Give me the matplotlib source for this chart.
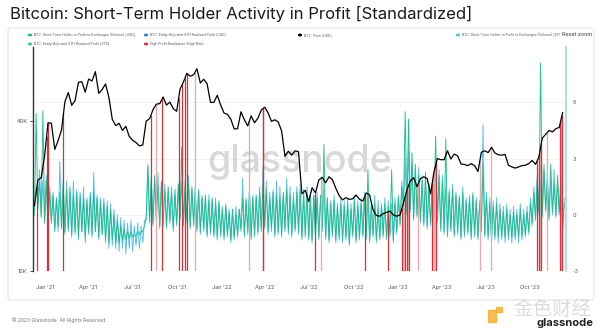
"""Bitcoin: Short-Term Holder Activity in Profit [Standardized] - glassnode style chart."""
import numpy as np
import matplotlib
matplotlib.use("Agg")
import matplotlib.pyplot as plt
import matplotlib.dates as mdates
from matplotlib.patches import FancyBboxPatch, Rectangle

# ---- data (weekly, first week starting 2020-12-10) ----
start = np.datetime64("2020-12-10")

price_k = [
    18.3, 23.2, 23.7, 29.0,
    39.4, 39.2, 30.8, 33.4, 36.9, 47.9, 52.1, 46.3, 48.4, 57.3, 57.6, 52.3,
    59.0, 58.0, 63.2, 51.7, 53.6, 56.4, 49.7, 40.6, 38.4, 39.2, 36.7, 38.1, 34.7,
    33.5, 32.8, 31.8, 32.1, 40.0, 40.9, 44.4, 46.8, 47.0, 50.0, 46.4, 47.7, 44.9, 43.8,
    53.8, 57.4, 62.2, 60.6, 61.4, 64.9, 56.9, 58.9, 56.5, 47.6, 47.6, 50.8, 46.4,
    43.1, 42.6, 40.7, 37.2, 37.3, 43.6, 40.5, 38.3, 42.0, 39.4, 41.1, 44.3, 45.5,
    43.2, 39.9, 40.5, 39.7, 36.5, 28.9, 30.3, 29.2, 30.4, 30.1, 20.4, 21.1, 19.0,
    21.6, 20.6, 23.2, 23.8, 22.6, 23.9, 23.3, 21.5, 20.1, 19.3, 19.7, 19.4, 19.5,
    20.2, 19.4, 19.1, 20.6, 20.2, 17.6, 16.7, 16.6, 17.0, 17.2, 17.4, 16.8, 16.6,
    16.8, 18.8, 21.1, 23.0, 23.7, 21.8, 23.5, 23.9, 23.5, 20.4, 25.0, 28.3, 28.0,
    28.0, 30.4, 28.2, 29.5, 29.0, 26.9, 26.8, 26.5, 27.0, 26.5, 25.1, 30.0, 30.4,
    29.9, 31.4, 29.8, 29.3, 29.2, 29.4, 26.6, 26.2, 25.9, 26.2, 26.5, 26.6, 27.0,
    27.8, 26.8, 28.7, 34.2, 35.4, 36.7, 36.2, 37.3, 37.7, 43.3,
]

# STH in Profit to Exchanges (Volume) [STD] - weekly high / low
cyan_hi = [
    1.5, 2.4, 1.8, 2.1, 1.5, 1.2, 0.9, 2.85, 1.5, 1.8, 1.2, 1.8, 1.35,
    1.2, 1.5, 0.9, 1.2, 2.25, 1.05, 0.9, 0.9, 0.75, 0.6, 0.3, 0.0, -0.15,
    -0.3, -0.45, -0.3, -0.6, -0.45, -0.6, -0.3, 2.7, 2.1, 1.8, 2.25, 1.5, 1.65,
    1.2, 1.5, 1.05, 1.35, 1.8, 1.5, 2.1, 1.35, 1.5, 1.2, 1.05, 0.9, 1.05,
    0.75, 0.9, 0.6, 0.45, 0.6, 0.3, 0.15, 0.45, 0.3, 1.95, 0.9, 1.2, 1.05,
    0.9, 1.5, 2.55, 1.8, 1.2, 1.35, 1.8, 1.5, 1.05, 1.95, 1.5, 1.2, 1.5,
    1.65, 1.35, 1.5, 1.2, 1.05, 1.2, 0.9, 1.35, 0.9, 0.75, 1.05, 0.6, 0.9,
    0.75, 0.9, 0.6, 1.05, 0.75, 0.9, 1.2, 0.9, 0.6, 1.05, 0.75, 0.6, 0.9,
    0.75, 0.6, 0.9, 1.05, 1.8, 3.0, 3.45, 2.7, 2.4, 2.55, 2.1, 1.8, 1.65,
    1.5, 2.7, 2.4, 2.1, 1.5, 1.35, 1.65, 1.2, 1.05, 1.5, 0.9, 1.05, 1.2,
    0.9, 0.75, 4.8, 1.2, 0.9, 0.75, 0.9, 0.6, 0.45, 0.6, 0.3, 0.45, 0.3,
    0.6, 0.3, 0.45, 0.9, 1.5, 2.1, 1.8, 2.7, 2.25, 1.95, 2.4, 1.8, 2.1,
    0.9,
]
cyan_lo = [
    0.3, 0.6, 0.0, -0.3, -0.6, -0.3, -0.75, -0.9, -0.6, -1.05, -0.9, -1.2, -1.05,
    -1.35, -0.9, -1.5, -1.05, -1.2, -0.9, -1.35, -1.05, -1.5, -1.8, -1.65, -1.8, -1.95,
    -1.8, -2.1, -1.8, -1.95, -1.65, -1.8, -1.5, -0.3, -0.45, -0.6, -0.3, -0.75, -0.6,
    -0.75, -0.45, -0.9, -0.6, -0.3, -0.6, -0.45, -0.75, -0.6, -0.9, -1.05, -0.9, -1.2,
    -1.05, -1.2, -1.35, -1.2, -1.35, -1.2, -1.5, -1.35, -1.2, -0.9, -1.2, -1.05, -1.35,
    -1.2, -1.05, -0.9, -0.75, -1.05, -0.9, -1.2, -1.05, -1.2, -0.9, -1.05, -1.2, -0.9,
    -1.05, -1.35, -1.2, -1.35, -1.5, -1.2, -1.35, -0.9, -1.35, -1.5, -1.2, -1.5, -1.35,
    -1.5, -1.35, -1.65, -1.2, -1.5, -1.35, -1.2, -1.35, -1.5, -1.2, -1.5, -1.35, -1.2,
    -1.35, -1.2, -1.5, -1.05, -0.6, 0.3, 0.0, 0.15, -0.3, -0.15, -0.45, -0.6, -0.75,
    -0.6, -0.3, -0.45, -0.9, -1.05, -1.2, -0.9, -1.2, -1.05, -1.35, -1.2, -1.05, -1.35,
    -1.2, -1.35, -0.9, -1.2, -1.35, -1.5, -1.35, -1.5, -1.35, -1.5, -1.35, -1.5, -1.35,
    -1.5, -1.35, -1.2, -1.05, -0.6, -0.3, 0.0, -0.15, 0.15, -0.3, 0.0, -0.15, 0.0,
    -0.9,
]

# Entity-Adjusted STH Realized Profit [STD] - weekly high / low
green_hi = [
    5.4, 1.8, 5.55, 1.8, 1.2, 1.05, 0.9, 1.2, 1.8, 1.35, 1.5, 1.05, 1.2,
    1.05, 0.9, 0.75, 1.05, 1.2, 0.9, 0.75, 0.6, 0.45, 0.3, 0.0, -0.3, -0.6,
    -0.75, -0.9, -0.9, -1.05, -0.9, -0.9, -0.6, 2.55, 1.8, 2.1, 1.5, 1.8, 1.35,
    1.5, 1.2, 1.35, 1.65, 3.6, 1.8, 1.65, 1.5, 1.2, 1.35, 0.9, 1.05, 0.75,
    0.9, 0.6, 0.75, 0.3, 0.45, 0.15, 0.3, 0.0, 0.3, 0.9, 0.75, 1.35, 0.9,
    1.05, 1.2, 1.5, 1.35, 0.9, 1.2, 1.05, 0.9, 1.2, 1.35, 1.05, 0.9, 1.2,
    1.35, 1.05, 1.2, 0.9, 1.05, 0.9, 1.05, 3.75, 0.9, 0.6, 0.75, 0.45, 0.6,
    0.45, 0.6, 0.3, 0.75, 0.45, 0.6, 0.9, 2.4, 0.45, 0.6, 0.3, 0.45, 0.6,
    0.45, 2.4, 0.6, 0.9, 1.5, 5.5, 5.1, 3.3, 2.7, 2.1, 1.8, 2.25, 1.5,
    1.65, 4.2, 2.1, 1.8, 4.05, 1.2, 1.35, 1.05, 0.9, 1.2, 0.75, 0.9, 1.05,
    0.75, 0.6, 2.7, 0.9, 0.6, 0.45, 0.6, 0.3, 0.15, 0.3, 0.0, 0.15, 0.0,
    0.3, 0.0, 0.15, 0.6, 1.2, 1.8, 8.1, 2.4, 1.8, 2.7, 1.65, 2.1, 1.5,
    0.6,
]
green_lo = [
    0.0, 0.3, -0.15, -0.45, -0.6, -0.45, -0.9, -0.6, -0.75, -0.9, -0.75, -1.05, -0.9,
    -1.2, -0.9, -1.2, -0.9, -1.05, -0.9, -1.2, -1.05, -1.35, -1.5, -1.35, -1.5, -1.5,
    -1.35, -1.35, -1.25, -1.2, -1.15, -1.05, -0.9, -0.15, -0.3, -0.45, -0.15, -0.6, -0.45,
    -0.6, -0.3, -0.75, -0.45, -0.15, -0.45, -0.3, -0.6, -0.45, -0.75, -0.9, -0.75, -1.05,
    -0.9, -1.05, -1.2, -1.05, -1.2, -1.05, -1.35, -1.2, -1.05, -0.75, -1.05, -0.9, -1.2,
    -1.05, -0.9, -0.75, -0.6, -0.9, -0.75, -1.05, -0.9, -1.05, -0.75, -0.9, -1.05, -0.75,
    -0.9, -1.2, -1.05, -1.2, -1.35, -1.05, -1.2, -0.75, -1.2, -1.35, -1.05, -1.35, -1.2,
    -1.35, -1.2, -1.5, -1.05, -1.35, -1.2, -1.05, -1.2, -1.35, -1.05, -1.35, -1.2, -1.05,
    -1.2, -1.05, -1.35, -0.9, -0.45, 0.45, 0.15, 0.3, -0.15, 0.0, -0.3, -0.45, -0.6,
    -0.45, -0.15, -0.3, -0.75, -0.9, -1.05, -0.75, -1.05, -0.9, -1.2, -1.05, -0.9, -1.2,
    -1.05, -1.2, -0.75, -1.05, -1.15, -1.2, -1.15, -1.2, -1.15, -1.2, -1.15, -1.2, -1.15,
    -1.2, -1.15, -1.05, -0.9, -0.45, -0.15, 0.15, 0.0, 0.3, -0.15, 0.15, 0.0, 0.15,
    -0.6,
]

# High Profit Realization (High Risk) periods
risk_periods = [
    ("2020-12-15", "2020-12-15"), ("2021-01-04", "2021-01-04"), ("2021-01-08", "2021-01-08"),
    ("2021-02-08", "2021-02-08"), ("2021-08-08", "2021-08-08"), ("2021-08-19", "2021-08-19"),
    ("2021-08-31", "2021-08-31"), ("2021-10-04", "2021-10-04"), ("2021-10-12", "2021-10-12"),
    ("2021-10-17", "2021-10-17"), ("2021-10-21", "2021-10-21"), ("2021-11-06", "2021-11-06"),
    ("2022-02-27", "2022-02-27"), ("2022-03-27", "2022-03-28"), ("2022-07-14", "2022-07-14"),
    ("2022-07-26", "2022-07-26"), ("2022-10-25", "2022-10-25"), ("2022-12-12", "2022-12-12"),
    ("2023-01-09", "2023-01-15"), ("2023-01-19", "2023-01-24"), ("2023-02-12", "2023-02-12"),
    ("2023-03-12", "2023-03-21"), ("2023-06-19", "2023-06-19"), ("2023-07-11", "2023-07-11"),
    ("2023-10-15", "2023-10-15"), ("2023-10-20", "2023-10-24"), ("2023-11-05", "2023-11-05"),
    ("2023-12-02", "2023-12-06"),
]
light_periods = {"2021-11-06", "2022-02-27", "2022-07-26", "2023-02-12", "2023-06-19",
                 "2023-07-11", "2023-11-05", "2021-08-19"}

x_ticks = ["2021-01-01", "2021-04-01", "2021-07-01", "2021-10-01", "2022-01-01", "2022-04-01",
           "2022-07-01", "2022-10-01", "2023-01-01", "2023-04-01", "2023-07-01", "2023-10-01"]
x_labels = ["Jan '21", "Apr '21", "Jul '21", "Oct '21", "Jan '22", "Apr '22",
            "Jul '22", "Oct '22", "Jan '23", "Apr '23", "Jul '23", "Oct '23"]

# ---- prep ----
def dnum(s):
    return mdates.date2num(np.datetime64(s).astype("datetime64[D]").astype(object))

n = len(price_k)
dnum0 = dnum(start)
price_x = dnum0 + np.arange(n) * 7
price = np.array(price_k) * 1000

def zigzag(lo, hi):
    xs, ys = [], []
    for i in range(len(lo)):
        xs += [dnum0 + 7 * i, dnum0 + 7 * i + 3.5]
        ys += [lo[i], hi[i]]
    return np.array(xs), np.array(ys)

cx, cy = zigzag(cyan_lo, cyan_hi)
gx, gy = zigzag(green_lo, green_hi)

C_GREEN = "#1dbf8c"
C_CYAN = "#56bfe8"
C_RED = "#d8313a"
C_PINK = "#f1a3a6"

plt.rcParams["font.family"] = ["Inter", "DejaVu Sans"]
fig = plt.figure(figsize=(6, 3.3), dpi=100)

# panel
panel = FancyBboxPatch((8 / 600, 1 - 300 / 330), 586 / 600, 272 / 330,
                       boxstyle="round,pad=0,rounding_size=0.006",
                       transform=fig.transFigure, fc="white", ec="#e4e4e4", lw=0.8, zorder=-5)
fig.patches.append(panel)

ax2 = fig.add_axes([33 / 600, 1 - 271 / 330, 533 / 600, 224 / 330])
ax = ax2.twinx()
ax2.patch.set_visible(False)
ax.patch.set_visible(False)

ax.set_yscale("log")
ax.set_ylim(10000, 79400)
ax2.set_ylim(-3, 8.95)
xlim = (dnum("2020-12-07"), dnum("2023-12-14"))
ax.set_xlim(*xlim)
ax2.set_xlim(*xlim)

# grid on right axis
for v in [-3, 0, 3, 6]:
    ax2.axhline(v, color="#efefef", lw=0.6, zorder=0)

# watermark
ax2.text(0.5, 0.485, "glassnode", transform=ax2.transAxes, ha="center", va="center",
         fontsize=27, color="#d2d2d2", alpha=0.85, zorder=0.5, fontweight="medium")

ax2.plot(cx, cy, color=C_CYAN, lw=0.65, zorder=2)
ax2.plot(gx, gy, color=C_GREEN, lw=0.65, zorder=3)

# risk bars up to price
for s, e in risk_periods:
    xs, xe = dnum(s), dnum(e)
    col = C_PINK if s in light_periods else C_RED
    if xe - xs < 0.5:
        ax.vlines(xs, 10000, np.interp(xs, price_x, price), color=col, lw=0.9, zorder=3)
    else:
        xx = np.linspace(xs, xe, 8)
        ax.fill_between(xx, 10000, np.interp(xx, price_x, price), color=C_PINK, alpha=0.8,
                        lw=0, zorder=3)
        for xv in (xs, xe):
            ax.vlines(xv, 10000, np.interp(xv, price_x, price), color=C_RED, lw=0.9, zorder=3)

ax.plot(price_x, price, color="black", lw=0.9, zorder=4)

# axes styling
for a in (ax, ax2):
    a.spines["top"].set_visible(False)
    a.spines["bottom"].set_visible(False)
ax.spines["left"].set_visible(False)
ax.spines["right"].set_visible(False)
ax2.spines["left"].set_color("#333333")
ax2.spines["left"].set_linewidth(1.0)
ax2.spines["right"].set_color("#a7d4ec")
ax2.spines["right"].set_linewidth(1.2)

# price ticks on the left, STD ticks on the right
ax.yaxis.tick_left()
ax.yaxis.set_major_locator(matplotlib.ticker.FixedLocator([10000, 40000]))
ax.yaxis.set_minor_locator(matplotlib.ticker.NullLocator())
ax.set_yticklabels(["10K", "40K"])
ax.tick_params(axis="y", length=2, width=0.6, color="#333333", labelsize=4, labelcolor="#555555", pad=2)
ax2.yaxis.tick_right()
ax2.set_yticks([-3, 0, 3, 6])
ax2.set_yticklabels(["-3", "0", "3", "6"])
ax2.tick_params(axis="y", length=0, labelsize=4, labelcolor="#555555", pad=5)

ax2.set_xticks([dnum(d) for d in x_ticks])
ax2.set_xticklabels(x_labels)
ax2.tick_params(axis="x", length=0, labelsize=4, labelcolor="#555555", pad=10)
ax.tick_params(axis="x", length=0, labelbottom=False)

# title
fig.text(10 / 600, 1 - 14 / 330, "Bitcoin: Short-Term Holder Activity in Profit [Standardized]",
         fontsize=12, color="#1a1a1a", va="center", ha="left")

# legend
legend_items = [
    (30, 35, C_GREEN, "BTC: Short-Term Holder in Profit to Exchanges (Volume) [USD]"),
    (146, 35, "#2f7fd6", "BTC: Entity-Adjusted STH Realized Profit [USD]"),
    (300, 35, "black", "BTC: Price [USD]"),
    (458, 35, "#5cc6dc", "BTC: Short-Term Holder in Profit to Exchanges (Volume) [STI"),
    (30, 44, "#2ec99a", "BTC: Entity-Adjusted STH Realized Profit [STD]"),
    (146, 44, C_RED, "High Profit Realization (High Risk)"),
]
for lx, ly, col, txt in legend_items:
    fig.patches.append(plt.Circle((lx / 600, 1 - ly / 330), 1.4 / 600, transform=fig.transFigure,
                                  color=col))
    fig.text((lx + 3.5) / 600, 1 - ly / 330, txt, fontsize=2.45, color="#555555", va="center", ha="left")
fig.text(562 / 600, 1 - 35 / 330, "Reset zoom", fontsize=3.9, color="#333333", va="center", ha="left")

# footer
fig.text(12 / 600, 1 - 320 / 330, "\u00a9 2023 Glassnode. All Rights Reserved.", fontsize=3.6,
         color="#777777", va="center", ha="left")
fig.patches.append(Rectangle((488 / 600, 1 - 322 / 330), 8 / 600, 12 / 330, transform=fig.transFigure,
                             color="#f2b233", alpha=0.85))
fig.patches.append(Rectangle((496 / 600, 1 - 312 / 330), 6 / 600, 5 / 330, transform=fig.transFigure,
                             color="#f2b233", alpha=0.85))
fig.text(513 / 600, 1 - 309 / 330, "金色财经", fontsize=14, color="#d4d4d4", alpha=0.8,
         va="center", ha="left", family=["Noto Sans CJK SC", "DejaVu Sans"])
fig.text(593 / 600, 1 - 323 / 330, "glassnode", fontsize=8, color="#222222", va="center",
         ha="right", fontweight="bold")

fig.savefig("out.png", dpi=100)
